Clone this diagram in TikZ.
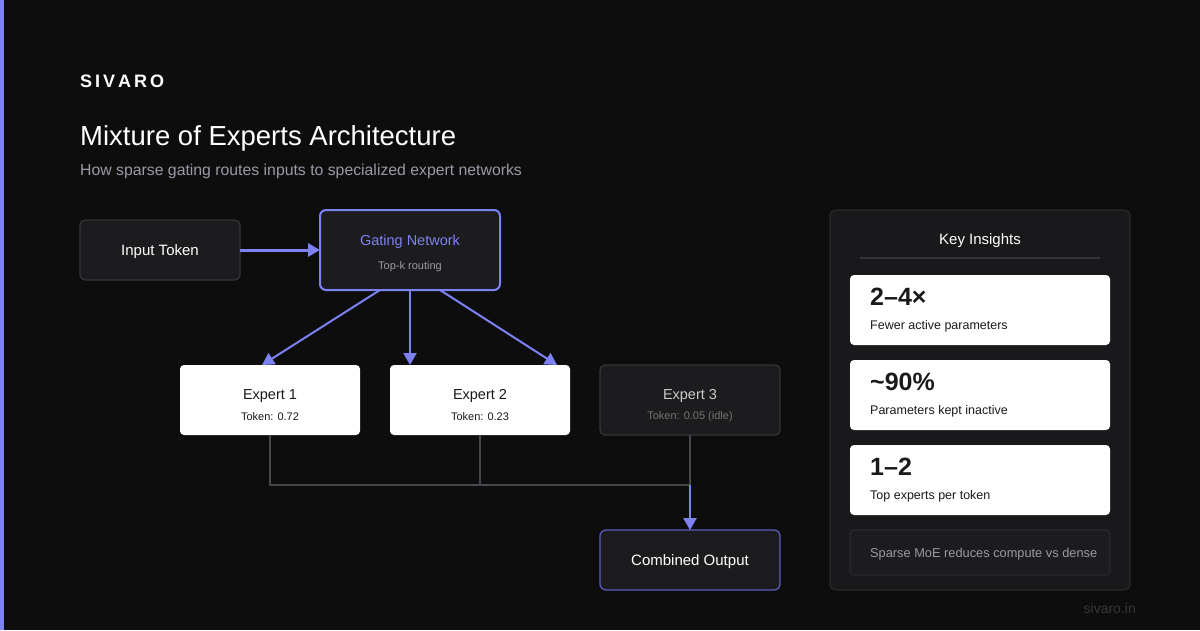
\documentclass[tikz,border=0pt]{standalone}
\usepackage{fontspec}
\setmainfont{Liberation Sans}
\usetikzlibrary{arrows.meta}
\definecolor{bg}{HTML}{0D0D0E}
\definecolor{accent}{HTML}{7C82F2}
\definecolor{accentdim}{HTML}{5A5FC0}
\definecolor{card}{HTML}{1C1C1F}
\definecolor{cardline}{HTML}{34343A}
\definecolor{panel}{HTML}{19191B}
\definecolor{subtle}{HTML}{9A9AA6}
\definecolor{wire}{HTML}{46464C}
\definecolor{darktext}{HTML}{1A1A1A}
\begin{document}
\begin{tikzpicture}[x=1pt,y=-1pt,
  darkbox/.style={draw=cardline,fill=card,line width=1.2pt,rounded corners=5pt},
  whitebox/.style={draw=none,fill=white,rounded corners=4pt},
  flow/.style={draw=accent,line width=2pt,-{Triangle[length=12pt,width=13pt]}},
  wireline/.style={draw=wire,line width=1.2pt},
  lbl/.style={inner sep=0pt,anchor=center}]
\useasboundingbox (0,0) rectangle (1200,630);
\fill[bg] (0,0) rectangle (1200,630);
\fill[accent] (0,0) rectangle (4,630);

\node[lbl,anchor=west,text=white] (brand) at (80,81) {\fontsize{18}{18}\selectfont\bfseries S\hspace{3pt}I\hspace{3pt}V\hspace{3pt}A\hspace{3pt}R\hspace{3pt}O};
\node[lbl,anchor=base west,text=white] (title) at (80,145) {\fontsize{27.5}{27.5}\selectfont Mixture of Experts Architecture};
\node[lbl,anchor=west,text=subtle] (subtitle) at (80,171) {\fontsize{15.8}{15.8}\selectfont How sparse gating routes inputs to specialized expert networks};

% boxes
\draw[darkbox] (80,220) rectangle (240,280);
\node[lbl,text=white] (input) at (160,252) {\fontsize{15}{15}\selectfont Input Token};
\coordinate (inR) at (240,250);

\draw[draw=accent,fill=card,line width=2pt,rounded corners=6pt] (320,210) rectangle (500,290);
\node[lbl,text=accent] (gate) at (410,242) {\fontsize{14.5}{14.5}\selectfont Gating Network};
\node[lbl,text=subtle] (gatesub) at (410,267) {\fontsize{11}{11}\selectfont Top-k routing};
\coordinate (gL) at (320,250);
\coordinate (g1) at (380,290);
\coordinate (g2) at (410,290);
\coordinate (g3) at (440,290);

\draw[whitebox] (180,365) rectangle (360,435);
\node[lbl,text=darktext] (e1) at (270,396) {\fontsize{14.5}{14.5}\selectfont Expert 1};
\node[lbl,text=darktext] (e1s) at (270,417) {\fontsize{11}{11}\selectfont Token: 0.72};
\draw[whitebox] (390,365) rectangle (570,435);
\node[lbl,text=darktext] (e2) at (480,396) {\fontsize{14.5}{14.5}\selectfont Expert 2};
\node[lbl,text=darktext] (e2s) at (480,417) {\fontsize{11}{11}\selectfont Token: 0.23};
\draw[darkbox] (600,365) rectangle (780,435);
\node[lbl,text=white!80!black] (e3) at (690,396) {\fontsize{14.5}{14.5}\selectfont Expert 3};
\node[lbl,text=white!45!black] (e3s) at (690,417) {\fontsize{11}{11}\selectfont Token: 0.05 (idle)};

\coordinate (t1) at (262,365);
\coordinate (t2) at (410,365);
\coordinate (t3) at (557,365);
\coordinate (b1) at (270,435);
\coordinate (b2) at (480,435);
\coordinate (b3) at (690,435);
\coordinate (j1) at (270,485);
\coordinate (j2) at (480,485);
\coordinate (j3) at (690,485);

\draw[draw=accentdim,fill=card,line width=1.2pt,rounded corners=6pt] (600,530) rectangle (780,590);
\node[lbl,text=white] (out) at (690,562) {\fontsize{15}{15}\selectfont Combined Output};
\coordinate (oT) at (690,530);

% connectors
\draw[flow,line width=3pt] (inR) -- (gL);
\draw[flow] (g1) -- (t1);
\draw[flow] (g2) -- (t2);
\draw[flow] (g3) -- (t3);
\draw[wireline] (b1) -- (j1) -- (j3) -- (b3);
\draw[wireline] (b2) -- (j2);
\draw[flow,line width=2.5pt] (j3) -- (oT);

% right panel
\draw[draw=cardline!80!black,fill=panel,line width=1.2pt,rounded corners=6pt] (830,210) rectangle (1130,590);
\node[lbl,text=white] (kt) at (980,241) {\fontsize{15}{15}\selectfont Key Insights};
\draw[draw=cardline,line width=1.2pt] (860,258) -- (1100,258);

\draw[whitebox] (850,275) rectangle (1110,345);
\node[lbl,anchor=west,text=darktext] (s1) at (870,297) {\fontsize{25}{25}\selectfont\bfseries 2–4×};
\node[lbl,anchor=west,text=darktext] (s1d) at (870,326) {\fontsize{12.5}{12.5}\selectfont Fewer active parameters};
\draw[whitebox] (850,360) rectangle (1110,430);
\node[lbl,anchor=west,text=darktext] (s2) at (870,382) {\fontsize{25}{25}\selectfont\bfseries \textasciitilde 90\%};
\node[lbl,anchor=west,text=darktext] (s2d) at (870,411) {\fontsize{12.5}{12.5}\selectfont Parameters kept inactive};
\draw[whitebox] (850,445) rectangle (1110,515);
\node[lbl,anchor=west,text=darktext] (s3) at (870,467) {\fontsize{25}{25}\selectfont\bfseries 1–2};
\node[lbl,anchor=west,text=darktext] (s3d) at (870,496) {\fontsize{12.5}{12.5}\selectfont Top experts per token};

\draw[draw=cardline!80!black,fill=card,line width=1.2pt,rounded corners=4pt] (850,530) rectangle (1110,575);
\node[lbl,anchor=west,text=subtle] (note) at (870,554) {\fontsize{12.8}{12.8}\selectfont Sparse MoE reduces compute vs dense};

\node[lbl,anchor=east,text=white!22!black] (site) at (1136,608) {\fontsize{14}{14}\selectfont sivaro.in};
\end{tikzpicture}
\end{document}
